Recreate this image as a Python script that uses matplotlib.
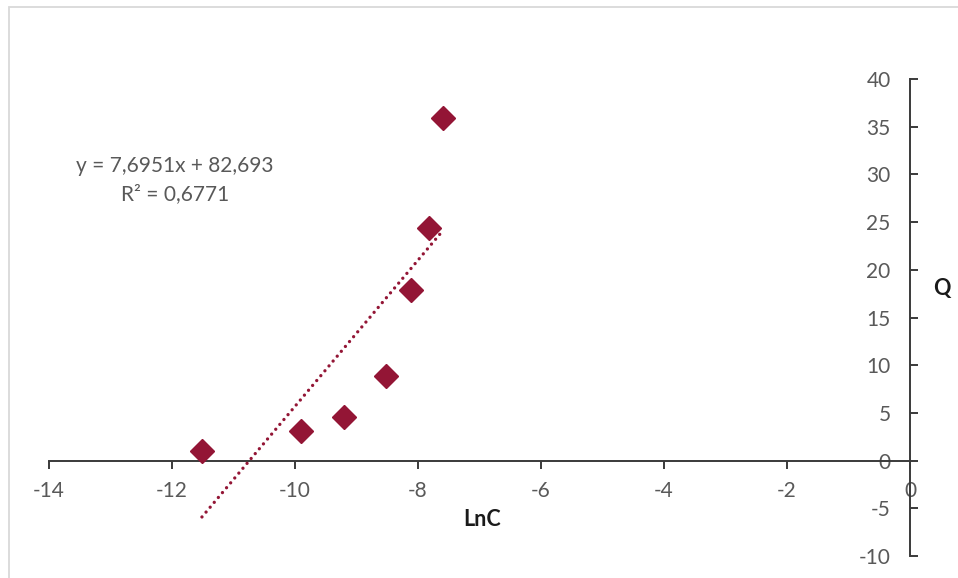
import numpy as np
import matplotlib
matplotlib.use("Agg")
import matplotlib.pyplot as plt
from matplotlib.patches import Rectangle

# Data
lnC = [-11.513, -9.903, -9.210, -8.517, -8.112, -7.824, -7.601]
Q = [1.05, 3.14, 4.6, 8.9, 17.9, 24.4, 35.9]
x_ticks = [-14, -12, -10, -8, -6, -4, -2, 0]
y_ticks = [-10, -5, 0, 5, 10, 15, 20, 25, 30, 35, 40]
eq_text = "y = 7,6951x + 82,693\nR² = 0,6771"

plt.rcParams['font.family'] = ['Lato', 'DejaVu Sans']

fig = plt.figure(figsize=(9.58, 5.78), dpi=100)
W, H = 958, 578
ax = fig.add_axes([49 / W, (H - 556) / H, (910 - 49) / W, (556 - 79) / H])

marker_color = '#931535'
ax.plot(lnC, Q, linestyle='none', marker='D', markersize=12.5,
        color=marker_color, zorder=4, clip_on=False)

# linear trendline
k, b = np.polyfit(lnC, Q, 1)
xs = np.array([min(lnC), max(lnC)])
ax.plot(xs, k * xs + b, color=marker_color, linewidth=2.4,
        linestyle=(0, (0.01, 1.9)), dash_capstyle='round', zorder=3, clip_on=False)

ax.set_xlim(-14, 0)
ax.set_ylim(-10, 40)
ax.set_xticks(x_ticks)
ax.set_yticks(y_ticks)
ax.set_xticklabels([str(v) for v in x_ticks])
ax.set_yticklabels([str(v) for v in y_ticks])

for s in ['top', 'right']:
    ax.spines[s].set_visible(False)
ax.spines['left'].set_position(('data', 0))
ax.spines['bottom'].set_position(('data', 0))
axis_color = '#3a3a3a'
for s in ['left', 'bottom']:
    ax.spines[s].set_color(axis_color)
    ax.spines[s].set_linewidth(1.4)
    ax.spines[s].set_zorder(2)

ax.tick_params(axis='y', direction='in', length=6, width=1.4, color=axis_color,
               labelsize=15, labelcolor='#595959', pad=14)
ax.tick_params(axis='x', direction='out', length=6, width=1.4, color=axis_color,
               labelsize=15, labelcolor='#595959', pad=9)
ax.patch.set_visible(False)

fig.text(482 / W, 1 - 520 / H, 'LnC', fontsize=15.5, fontweight='bold',
         color='#1a1a1a', ha='center', va='center')
fig.text(942 / W, 1 - 288 / H, 'Q', fontsize=15.5, fontweight='bold',
         color='#1a1a1a', ha='center', va='center')
fig.text(175 / W, 1 - 180 / H, eq_text, fontsize=15, color='#595959',
         ha='center', va='center', linespacing=1.45)

fig.add_artist(Rectangle((9 / W, -0.1), 2, (H - 7) / H + 0.1,
                         transform=fig.transFigure, fill=False,
                         edgecolor='#d9d9d9', linewidth=1.3))

fig.savefig('out.png', dpi=100)
